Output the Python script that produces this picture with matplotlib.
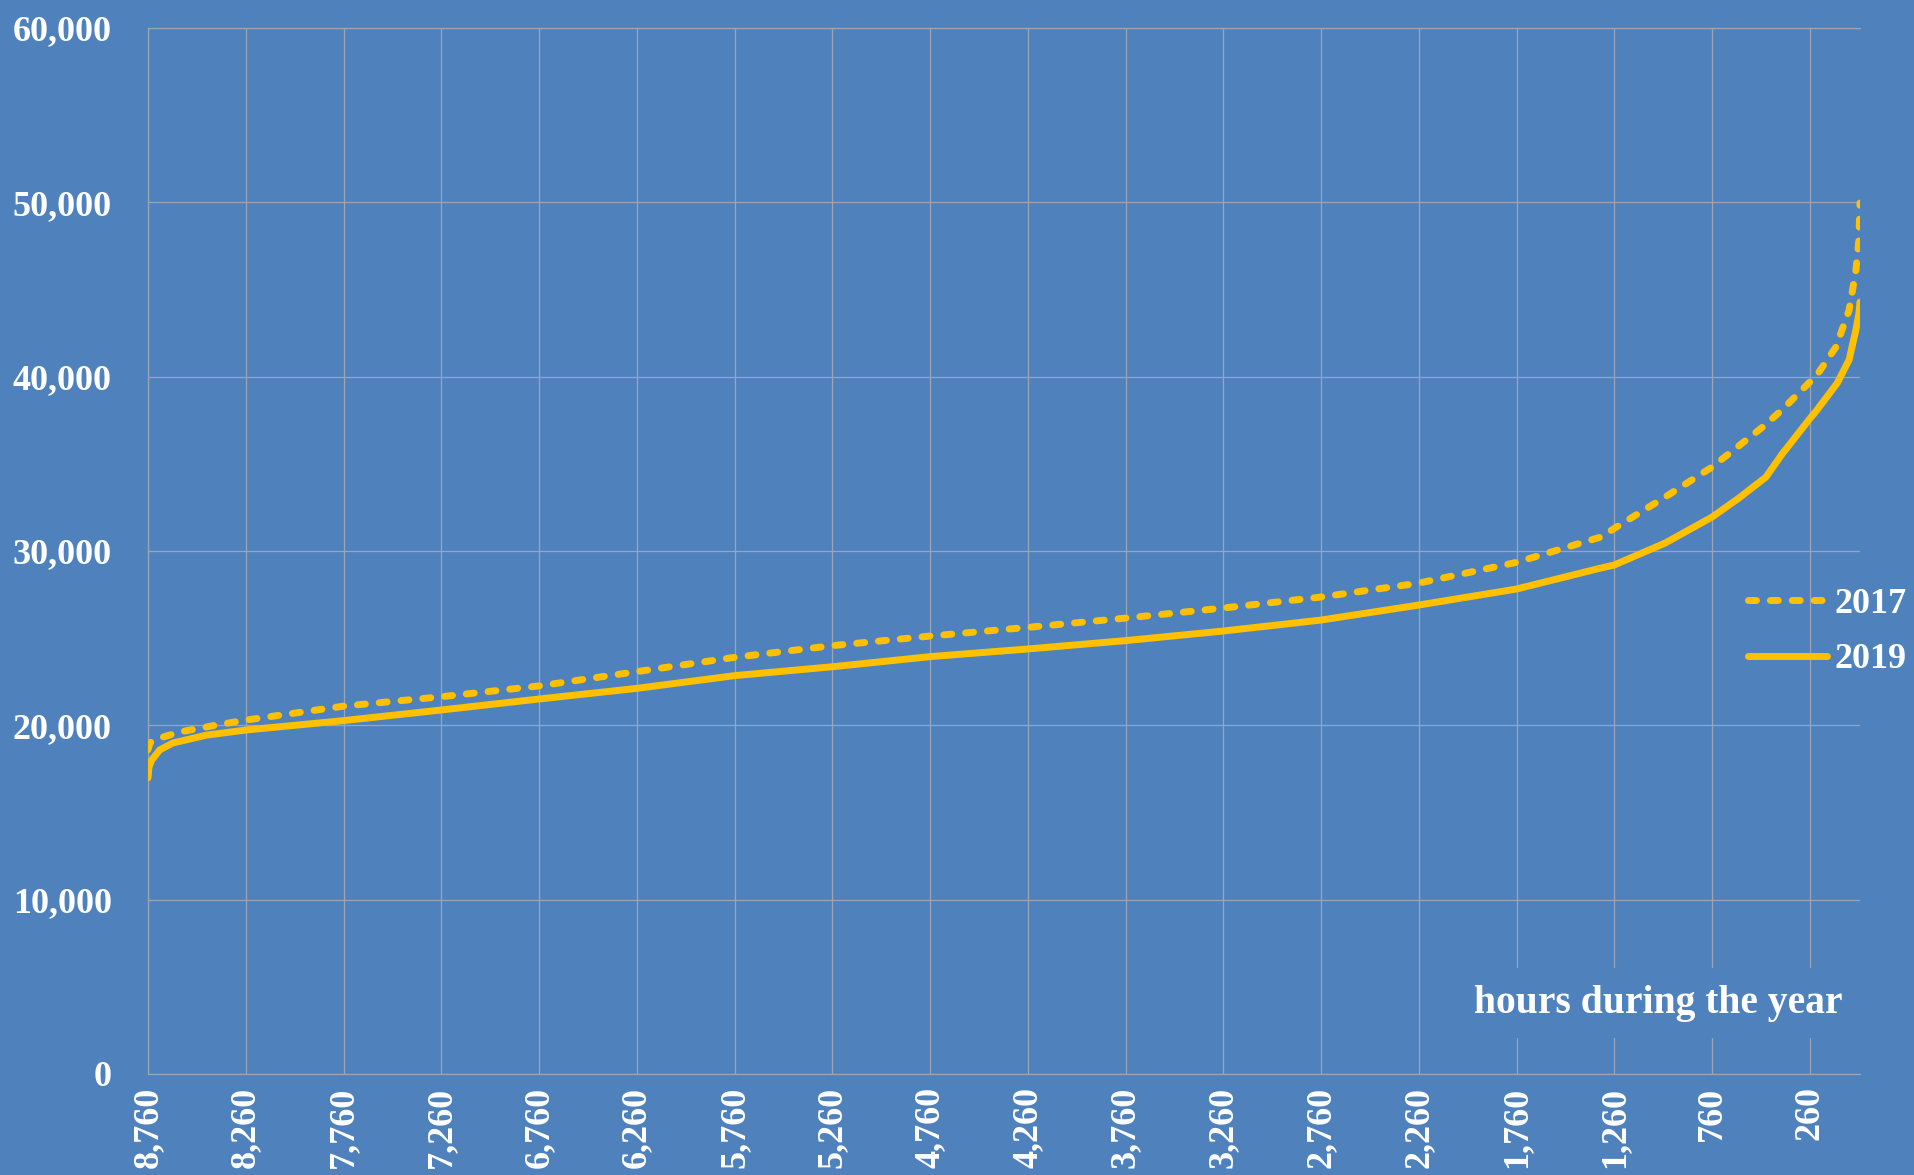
import matplotlib
matplotlib.use("Agg")
import matplotlib.pyplot as plt
from matplotlib.ticker import FuncFormatter

# ---- data ----
hours_2017 = [8760, 8752, 8745, 8700, 8597, 8407, 8260, 7760, 7260, 6760, 6260,
              5760, 5260, 4760, 4260, 3760, 3260, 2760, 2260, 1760, 1330, 1260,
              1000, 760, 500, 403, 260, 230, 127, 96, 60, 25, 10, 4]
load_2017 = [18600, 18900, 19050, 19270, 19620, 20020, 20300, 21100, 21640, 22260, 23080,
             23900, 24570, 25120, 25620, 26150, 26730, 27360, 28160, 29350, 30800, 31300,
             33100, 34820, 37130, 38090, 39700, 40000, 41700, 42680, 43800, 46100, 47800, 49960]

hours_2019 = [8760, 8755, 8741, 8700, 8632, 8460, 8260, 7760, 7260, 6760, 6260,
              5760, 5260, 4760, 4260, 3760, 3260, 2760, 2260, 1760, 1330, 1260,
              1000, 760, 623, 485, 403, 260, 230, 120, 60, 25, 10, 4]
load_2019 = [16980, 17600, 18010, 18590, 18990, 19440, 19730, 20270, 20880, 21510, 22120,
             22850, 23360, 23940, 24380, 24860, 25410, 26040, 26900, 27820, 29020, 29200,
             30460, 31950, 33040, 34240, 35550, 37600, 38000, 39640, 40960, 42680, 43600, 44280]

x_ticks = [8760, 8260, 7760, 7260, 6760, 6260, 5760, 5260, 4760, 4260,
           3760, 3260, 2760, 2260, 1760, 1260, 760, 260]
y_ticks = [0, 10000, 20000, 30000, 40000, 50000, 60000]
series_labels = ["2017", "2019"]
x_title = "hours during the year"

# ---- style ----
BG = "#4F81BD"
GOLD = "#FFC000"
GRID = "#9AA6B8"
FONT = ["Liberation Serif", "DejaVu Serif"]
FS = 26

plt.rcParams["font.family"] = FONT
plt.rcParams["font.weight"] = "bold"

fig = plt.figure(figsize=(19.15, 11.75), dpi=100, facecolor=BG)
W, H = 1915, 1175
left, right, bottom, top = 148, 1860, 1074, 28
ax = fig.add_axes([left / W, 1 - bottom / H, (right - left) / W, (bottom - top) / H])
ax.set_facecolor(BG)

ax.plot(hours_2017, load_2017, color=GOLD, lw=5, dashes=(1.15, 2.0),
        dash_capstyle="round", solid_capstyle="round", solid_joinstyle="round",
        label=series_labels[0], zorder=3)
ax.plot(hours_2019, load_2019, color=GOLD, lw=5, solid_capstyle="round",
        solid_joinstyle="round", label=series_labels[1], zorder=3)

ax.set_xlim(8760, 4)
ax.set_ylim(0, 60000)
ax.set_xticks(x_ticks)
ax.set_xticklabels([f"{v:,}" for v in x_ticks], rotation=90, fontsize=FS,
                   color="white", fontweight="bold")
ax.set_yticks(y_ticks)
ax.yaxis.set_major_formatter(FuncFormatter(lambda v, p: f"{int(v):,}"))
for lab in ax.get_yticklabels():
    lab.set_fontsize(FS)
    lab.set_color("white")
    lab.set_fontweight("bold")
ax.tick_params(axis="both", length=0)
ax.tick_params(axis="y", pad=26, labelsize=FS, labelcolor="white")
ax.tick_params(axis="x", pad=9)

ax.grid(True, color=GRID, lw=0.9)
ax.set_axisbelow(True)
for side in ["left", "bottom", "top"]:
    ax.spines[side].set_color(GRID)
    ax.spines[side].set_linewidth(0.9)
ax.spines["right"].set_visible(False)

leg = ax.legend(loc="center left", bbox_to_anchor=(1748 / W, 1 - 632 / H),
                bbox_transform=fig.transFigure, frameon=False, fontsize=FS,
                handlelength=2.2, handletextpad=0.2, labelspacing=0.62,
                borderpad=0, borderaxespad=0)
for t in leg.get_texts():
    t.set_color("white")
    t.set_fontweight("bold")

fig.text(1658 / W, 1 - 1003 / H, x_title, ha="center", va="center", fontsize=28.5,
         color="white", fontweight="bold",
         bbox=dict(boxstyle="square,pad=0.42", facecolor=BG, edgecolor="none"))

fig.savefig("out.png", dpi=100, facecolor=BG)
